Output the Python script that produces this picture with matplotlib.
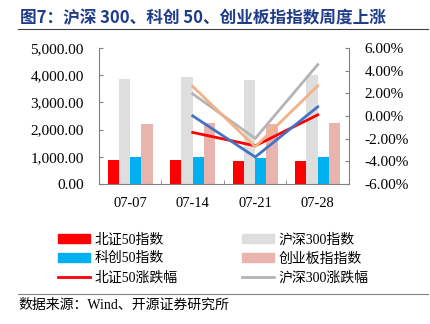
import matplotlib
matplotlib.use("Agg")
import matplotlib.pyplot as plt
import numpy as np
from matplotlib.patches import Patch
from matplotlib.lines import Line2D
from matplotlib.ticker import FuncFormatter, FixedLocator

plt.rcParams['font.family'] = ['Liberation Serif', 'Noto Sans CJK SC', 'DejaVu Sans']

# 数据
dates = ["07-07", "07-14", "07-21", "07-28"]
bz50_idx = [880, 868, 843, 843]
hs300_idx = [3851, 3924, 3839, 3998]
kc50_idx = [1002, 1002, 966, 978]
cyb_idx = [2188, 2237, 2188, 2237]

# 涨跌幅 (%), 从 07-14 开始
chg_dates = ["07-14", "07-21", "07-28"]
bz50_chg = [-1.45, -2.63, 0.10]
hs300_chg = [1.95, -1.98, 4.53]
kc50_chg = [0.01, -3.62, 0.81]
cyb_chg = [2.60, -2.71, 2.66]

fig = plt.figure(figsize=(4.31, 3.24), dpi=100)
ax = fig.add_axes([0.2297, 0.432, 0.58, 0.42])
ax2 = ax.twinx()

x = np.arange(len(dates))
w = 0.18
ax.bar(x - 1.5 * w, bz50_idx, w, color='#FF0000', label='北证50指数')
ax.bar(x - 0.5 * w, hs300_idx, w, color='#DEDEDE', label='沪深300指数')
ax.bar(x + 0.5 * w, kc50_idx, w, color='#00B0F0', label='科创50指数')
ax.bar(x + 1.5 * w, cyb_idx, w, color='#E8B4AD', label='创业板指指数')

xc = [dates.index(d) for d in chg_dates]
ax2.plot(xc, bz50_chg, color='#FF0000', lw=2, label='北证50涨跌幅')
ax2.plot(xc, hs300_chg, color='#B4B4B4', lw=2, label='沪深300涨跌幅')
ax2.plot(xc, kc50_chg, color='#4472C4', lw=2, label='科创50涨跌幅')
ax2.plot(xc, cyb_chg, color='#F4B183', lw=2, label='创业板指涨跌幅')

ax.set_xlim(-0.5, 3.5)
ax.set_ylim(0, 5000)
ax.set_yticks(np.arange(0, 5001, 1000))
ax.yaxis.set_major_formatter(FuncFormatter(lambda v, p: f"{v:,.2f}"))
ax2.set_ylim(-6, 6)
ax2.set_yticks(np.arange(-6, 6.1, 2))
ax2.yaxis.set_major_formatter(FuncFormatter(lambda v, p: f"{v:.2f}%"))

ax.set_xticks(x)
ax.set_xticklabels(dates)
ax.xaxis.set_minor_locator(FixedLocator([0.5, 1.5, 2.5]))
ax.tick_params(axis='x', which='major', length=0, pad=9, labelsize=10.5)
ax.tick_params(axis='x', which='minor', length=3, direction='in', color='#808080')
ax.tick_params(axis='y', direction='in', length=3, pad=11, labelsize=11, color='#808080')
ax2.tick_params(axis='y', direction='in', length=3, pad=11, labelsize=11, color='#808080')

for a in (ax, ax2):
    a.spines['top'].set_visible(False)
    for s in ('left', 'right', 'bottom'):
        a.spines[s].set_color('#808080')
ax.spines['right'].set_visible(False)
ax2.spines['left'].set_visible(False)
ax2.spines['bottom'].set_visible(False)

# 图例 (只显示 6 项)
handles = [
    Patch(color='#FF0000'), Patch(color='#00B0F0'), Line2D([], [], color='#FF0000', lw=2),
    Patch(color='#DEDEDE'), Patch(color='#E8B4AD'), Line2D([], [], color='#B4B4B4', lw=2),
]
labels = ['北证50指数', '科创50指数', '北证50涨跌幅', '沪深300指数', '创业板指指数', '沪深300涨跌幅']
fig.legend(handles, labels, ncol=2, frameon=False, loc='upper left',
           bbox_to_anchor=(0.135, 0.281), fontsize=10, handlelength=2.3,
           handleheight=0.55, labelspacing=0.42, columnspacing=4.6, handletextpad=0.35,
           borderaxespad=0, borderpad=0)

# 标题与来源
fig.text(0.046, 0.944, "图7：沪深 300、科创 50、创业板指指数周度上涨", fontsize=12,
         fontweight='bold', color='#1F3C88', va='center', ha='left',
         family=['Noto Sans CJK SC', 'DejaVu Sans'])
fig.add_artist(Line2D([0.042, 0.993], [0.91, 0.91], color='#404040', lw=0.8))
fig.add_artist(Line2D([0.042, 0.993], [0.093, 0.093], color='#808080', lw=0.8))
fig.text(0.042, 0.058, "数据来源：Wind、开源证券研究所", fontsize=10, va='center', ha='left')

fig.savefig("out.png", dpi=100)
